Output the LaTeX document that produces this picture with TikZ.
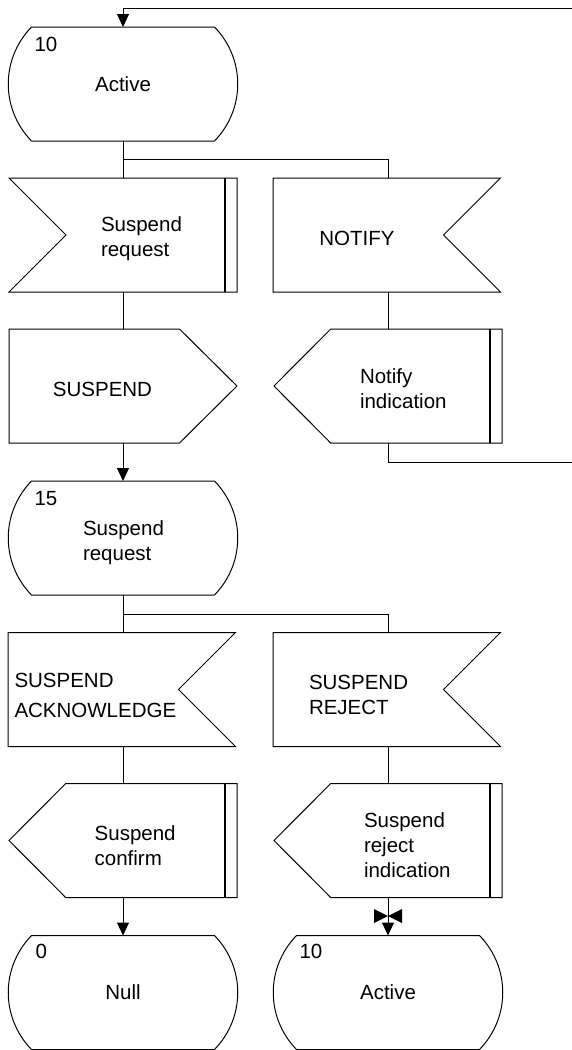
\documentclass[tikz,border=0pt]{standalone}
\usepackage{fontspec}
\setmainfont{Liberation Sans}
\usetikzlibrary{arrows.meta,calc}
\newcommand\sdlfont{\fontsize{20.5}{25}\selectfont}
\tikzset{
  outline/.style={draw, line width=1pt, line join=miter},
  barline/.style={line width=2.4pt},
  flow/.style={line width=1pt},
  arr/.style={flow, -{Triangle[length=13pt,width=12pt]}},
  txt/.style={inner sep=0pt, outer sep=0pt, align=left, font=\sdlfont},
  holder/.style={rectangle, inner sep=0pt, outer sep=0pt, minimum width=228pt, minimum height=114pt, align=left, font=\sdlfont},
  numtxt/.style={inner sep=0pt, outer sep=0pt, anchor=west, font=\sdlfont},
}
\begin{document}
\begin{tikzpicture}[x=1pt,y=-1pt]
\useasboundingbox (0,0) rectangle (571,1050);

% ---------- holder nodes (names / anchors) ----------
\node[holder] (s1) at (123,84) {Active};
\node[holder] (a) at (123,235) {};
\node[holder] (b) at (388,235) {};
\node[holder] (c) at (123,386) {};
\node[holder] (d) at (388,386) {};
\node[holder] (s2) at (123,538) {};
\node[holder] (e) at (123,689.5) {};
\node[holder] (f) at (388,689.5) {};
\node[holder] (g) at (123,840.5) {};
\node[holder] (h) at (388,840.5) {};
\node[holder] (s3) at (123,992.5) {Null};
\node[holder] (s4) at (388,992.5) {Active};

% ---------- state shapes ----------
\foreach \cx/\cy in {123/84, 123/538, 123/992.5, 388/992.5}{
  \begin{scope}[shift={(\cx,\cy)}]
    \draw[outline] (-91.5,-57) -- (91.5,-57)
      .. controls (122.5,-25) and (122.5,25) .. (91.5,57)
      -- (-91.5,57)
      .. controls (-122.5,25) and (-122.5,-25) .. (-91.5,-57) -- cycle;
  \end{scope}
}
\node[numtxt] (s1n) at (34.5,44) {10};
\node[numtxt] (s2n) at (34.5,499) {15};
\node[numtxt] (s3n) at (35.5,951.5) {0};
\node[numtxt] (s4n) at (299.5,951.5) {10};
\node[txt, anchor=west] (s2t) at (83,542.5) {Suspend\\request};

% ---------- A: input, notch left, bar right ----------
\begin{scope}[shift={(123,235)}]
  \draw[outline] (-114,-57) -- (114,-57) -- (114,57) -- (-114,57) -- (-57,0) -- cycle;
  \draw[barline] (102,-57) -- (102,57);
\end{scope}
\node[txt, anchor=west] (at) at (101,238.5) {Suspend\\request};

% ---------- B, E, F: input, notch right ----------
\foreach \cx/\cy in {388/235, 123/689.5, 388/689.5}{
  \begin{scope}[shift={(\cx,\cy)}]
    \draw[outline] (-115,-57) -- (112.5,-57) -- (55.5,0) -- (112.5,57) -- (-115,57) -- cycle;
  \end{scope}
}
\node[txt] (bt) at (357,238) {NOTIFY};
\node[txt, anchor=west, font=\fontsize{20.5}{30}\selectfont] (et) at (14.5,695) {SUSPEND\\ACKNOWLEDGE};
\node[txt, anchor=west] (ft) at (309,695) {SUSPEND\\REJECT};

% ---------- C: output, right pointing ----------
\begin{scope}[shift={(123,386)}]
  \draw[outline] (-114,-57) -- (56.5,-57) -- (114,0) -- (56.5,57) -- (-114,57) -- cycle;
\end{scope}
\node[txt] (ct) at (102.5,389) {SUSPEND};

% ---------- D, G, H: left pointing with bar ----------
\foreach \cx/\cy in {388/386, 123/840.5, 388/840.5}{
  \begin{scope}[shift={(\cx,\cy)}]
    \draw[outline] (-114,0) -- (-57.3,-57) -- (114,-57) -- (114,57) -- (-57.3,57) -- cycle;
    \draw[barline] (102,-57) -- (102,57);
  \end{scope}
}
\node[txt, anchor=west] (dt) at (360,388.5) {Notify\\indication};
\node[txt, anchor=west] (gt) at (94.7,845.5) {Suspend\\confirm};
\node[txt, anchor=west] (ht) at (364,845) {Suspend\\reject\\indication};

% ---------- connectors ----------
\coordinate (br1) at (123,159);
\coordinate (br2) at (123,614);
\coordinate (lp1) at (388,462.7);
\coordinate (lp2) at (576,462.7);
\coordinate (lp3) at (576,8);
\coordinate (lp4) at (123,8);

\draw[flow] (s1.south) -- (a.north);
\draw[flow] (br1) -| (b.north);
\draw[flow] (a.south) -- (c.north);
\draw[flow] (b.south) -- (d.north);
\draw[arr] (c.south) -- (s2.north);
\draw[arr] (d.south) -- (lp1) -- (lp2) -- (lp3) -- (lp4) -- (s1.north);

\draw[flow] (s2.south) -- (e.north);
\draw[flow] (br2) -| (f.north);
\draw[flow] (e.south) -- (g.north);
\draw[flow] (f.south) -- (h.north);
\draw[arr] (g.south) -- (s3.north);
\draw[arr] (h.south) -- (s4.north);

% bow-tie marker
\fill (374,909) -- (374,923) -- (388,916) -- cycle;
\fill (402,909) -- (402,923) -- (388,916) -- cycle;
\end{tikzpicture}
\end{document}
